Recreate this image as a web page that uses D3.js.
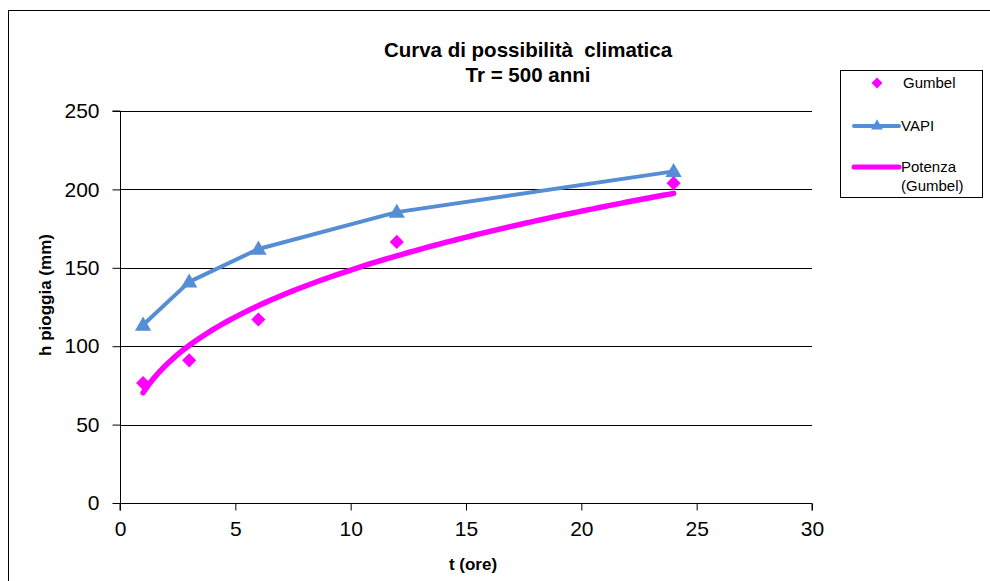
<!DOCTYPE html>
<html>
<head>
<meta charset="utf-8">
<script src="https://cdn.jsdelivr.net/npm/d3@7/dist/d3.min.js"></script>
<style>
  html, body { margin: 0; padding: 0; background: #fff; }
  svg { display: block; font-family: "Liberation Sans", Arial, sans-serif; }
</style>
</head>
<body>
<svg id="chart" width="990" height="581"></svg>
<script>
// Durations (hours) and rainfall depths (mm), return period 500 years
const durations = [1, 3, 6, 12, 24];
const gumbel = [76.5, 91, 117, 166.5, 204];
const vapi = [113.5, 141, 162, 185.5, 211.5];
const xTicks = [0, 5, 10, 15, 20, 25, 30];
const yTicks = [0, 50, 100, 150, 200, 250];

const svg = d3.select("#chart");
const plot = { left: 120, right: 812, top: 111, bottom: 503 };

const x = d3.scaleLinear().domain([0, 30]).range([plot.left, plot.right]);
const y = d3.scaleLinear().domain([0, 250]).range([plot.bottom, plot.top]);

// diamond marker: a square turned 45 degrees
const diamond = {
  draw(ctx, size) {
    const r = Math.sqrt(size / 2);
    ctx.moveTo(0, -r); ctx.lineTo(r, 0); ctx.lineTo(0, r); ctx.lineTo(-r, 0); ctx.closePath();
  }
};

// outer chart frame
svg.append("rect").attr("x", 8.5).attr("y", 10.5).attr("width", 1000).attr("height", 600)
  .attr("fill", "#fff").attr("stroke", "#000").attr("stroke-width", 1);

// horizontal gridlines
svg.append("g").selectAll("line").data(yTicks.filter(d => d > 0)).join("line")
  .attr("x1", plot.left).attr("x2", plot.right)
  .attr("y1", d => Math.round(y(d)) + 0.5).attr("y2", d => Math.round(y(d)) + 0.5)
  .attr("stroke", "#000").attr("stroke-width", 1);

// axes
const yAxis = svg.append("g").attr("transform", `translate(${plot.left + 0.5},0)`)
  .call(d3.axisLeft(y).tickValues(yTicks).tickSize(8).tickPadding(13).tickFormat(d3.format("d")));
const xAxis = svg.append("g").attr("transform", `translate(0,${plot.bottom + 0.5})`)
  .call(d3.axisBottom(x).tickValues(xTicks).tickSize(7).tickPadding(11).tickFormat(d3.format("d")));
[yAxis, xAxis].forEach(a => {
  a.select(".domain").attr("stroke", "#000");
  a.selectAll(".tick line").attr("stroke", "#000");
  a.selectAll(".tick text").attr("fill", "#000").attr("font-size", 21)
    .attr("font-family", "Liberation Sans, Arial, sans-serif");
});
xAxis.select(".domain").attr("d", `M${plot.left},7V0H${plot.right}V7`);
yAxis.select(".domain").attr("d", `M-8,${plot.top}H0V${plot.bottom}`);

// titles
const title = svg.append("text").attr("text-anchor", "middle").attr("font-weight", "bold")
  .attr("font-size", 20.5).attr("fill", "#000").style("white-space", "pre");
title.append("tspan").attr("x", 528).attr("y", 57).text("Curva di possibilità  climatica");
title.append("tspan").attr("x", 528).attr("y", 82).text("Tr = 500 anni");

svg.append("text").attr("x", 473).attr("y", 570).attr("text-anchor", "middle")
  .attr("font-weight", "bold").attr("font-size", 17).text("t (ore)");
svg.append("text").attr("transform", "translate(51,295) rotate(-90)").attr("text-anchor", "middle")
  .attr("font-weight", "bold").attr("font-size", 17).text("h pioggia (mm)");

const blue = "#558ED5", pink = "#FF00FF";

// power-law trendline of the Gumbel points, least squares in log space
const lx = durations.map(Math.log), ly = gumbel.map(Math.log);
const mx = d3.mean(lx), my = d3.mean(ly);
const expo = d3.sum(lx, (v, i) => (v - mx) * (ly[i] - my)) / d3.sum(lx, v => (v - mx) * (v - mx));
const coef = Math.exp(my - expo * mx);
const trend = d3.range(0, 101).map(i => {
  const t = durations[0] + (durations[durations.length - 1] - durations[0]) * i / 100;
  return [t, coef * Math.pow(t, expo)];
});

const line = d3.line().x(d => x(d[0])).y(d => y(d[1]));

// VAPI series
svg.append("path").datum(durations.map((t, i) => [t, vapi[i]])).attr("d", line)
  .attr("fill", "none").attr("stroke", blue).attr("stroke-width", 4).attr("stroke-linejoin", "round");
const tri = d3.symbol().type(d3.symbolTriangle).size(115);
svg.append("g").selectAll("path").data(durations).join("path")
  .attr("d", tri).attr("transform", (t, i) => `translate(${x(t)},${y(vapi[i]) + 1})`).attr("fill", blue);

// Gumbel points
const dia = d3.symbol().type(diamond).size(100);
svg.append("g").selectAll("path").data(durations).join("path")
  .attr("d", dia).attr("transform", (t, i) => `translate(${x(t)},${y(gumbel[i])})`).attr("fill", pink);

// trendline
svg.append("path").datum(trend).attr("d", line)
  .attr("fill", "none").attr("stroke", pink).attr("stroke-width", 5.5).attr("stroke-linecap", "round");

// legend
const lg = svg.append("g");
lg.append("rect").attr("x", 840.5).attr("y", 70.5).attr("width", 142).attr("height", 127)
  .attr("fill", "#fff").attr("stroke", "#000");
lg.append("path").attr("d", d3.symbol().type(diamond).size(60))
  .attr("transform", "translate(877,83)").attr("fill", pink);
lg.append("line").attr("x1", 854).attr("x2", 899).attr("y1", 126).attr("y2", 126)
  .attr("stroke", blue).attr("stroke-width", 4).attr("stroke-linecap", "round");
lg.append("path").attr("d", d3.symbol().type(d3.symbolTriangle).size(60))
  .attr("transform", "translate(877,126)").attr("fill", blue);
lg.append("line").attr("x1", 854).attr("x2", 899).attr("y1", 167).attr("y2", 167)
  .attr("stroke", pink).attr("stroke-width", 5).attr("stroke-linecap", "round");
const lt = lg.append("g").attr("font-size", 15).attr("fill", "#000");
lt.append("text").attr("x", 903).attr("y", 88).text("Gumbel");
lt.append("text").attr("x", 901).attr("y", 131).text("VAPI");
lt.append("text").attr("x", 901).attr("y", 172).text("Potenza");
lt.append("text").attr("x", 901).attr("y", 191).text("(Gumbel)");
</script>
</body>
</html>
